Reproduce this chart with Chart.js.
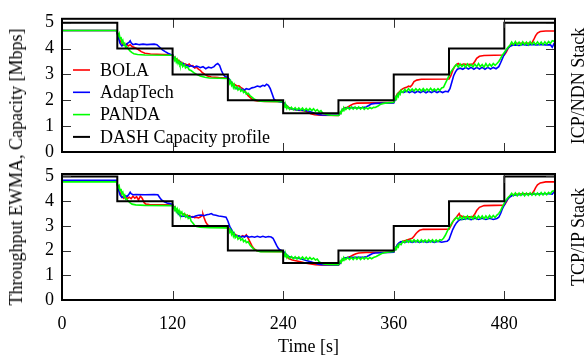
<!DOCTYPE html>
<html>
<head>
<meta charset="utf-8">
<script src="https://cdn.jsdelivr.net/npm/chart.js@4.4.0/dist/chart.umd.min.js"></script>
<style>
  body { margin: 0; background: #fff; }
  #wrap { position: relative; width: 585px; height: 360px; font-family: "Liberation Serif", serif; color: #000; }
  #wrap canvas { position: absolute; left: 0; top: 0; }
  .vlab { position: absolute; white-space: nowrap; font-size: 18px; line-height: 1; transform: translate(-50%, -50%) rotate(-90deg); }
</style>
</head>
<body>
<div id="wrap">
  <canvas id="ndn" width="585" height="360"></canvas>
  <canvas id="tcp" width="585" height="360"></canvas>
  <div class="vlab" style="left:16px; top:167px">Throughput EWMA, Capacity [Mbps]</div>
  <div class="vlab" style="left:578px; top:86px">ICP/NDN Stack</div>
  <div class="vlab" style="left:578px; top:237px">TCP/IP Stack</div>
</div>
<script>
// capacity profile: level starting at each time
const capTimes = [0, 60, 120, 180, 240, 300, 360, 420, 480, 540];
const capLevels = [5, 4, 3, 2, 1.5, 2, 3, 4, 5, 5];
const xTickValues = [0, 120, 240, 360, 480];
const yTickValues = [0, 1, 2, 3, 4, 5];
const labels = ['BOLA', 'AdapTech', 'PANDA', 'DASH Capacity profile'];

// ICP/NDN stack [time s, Mbps]
const bolaNdn = [[0,4.7],[59,4.7],[61,4.5],[63,4.3],[66,4.15],[68,4.12],[70,4.18],[72,4.1],[74,4.15],[76,4.08],[78,4.05],[82,3.98],[86,3.88],[90,3.82],[96,3.79],[110,3.77],[120,3.76],
  [122,3.65],[124,3.6],[126,3.55],[128,3.5],[130,3.45],[132,3.42],[134,3.4],[136,3.36],[138,3.4],[140,3.32],[142,3.34],[144,3.25],[146,3.28],[148,3.2],[150,3.16],[152,3.08],[155,3.0],[158,2.94],[162,2.9],[170,2.88],[180,2.87],
  [182,2.75],[184,2.68],[186,2.62],[188,2.6],[190,2.55],[192,2.56],[194,2.5],[196,2.45],[198,2.38],[200,2.28],[202,2.18],[205,2.08],[208,2.0],[212,1.97],[220,1.95],[240,1.94],
  [242,1.85],[244,1.78],[246,1.72],[248,1.68],[252,1.64],[256,1.62],[262,1.6],[266,1.55],[270,1.48],[274,1.44],[280,1.42],[300,1.41],
  [302,1.5],[304,1.62],[306,1.7],[310,1.73],[313,1.8],[316,1.86],[320,1.89],[340,1.9],[360,1.92],
  [362,2.1],[364,2.25],[366,2.32],[368,2.4],[370,2.45],[372,2.48],[374,2.5],[376,2.55],[378,2.52],[380,2.6],[382,2.72],[385,2.78],[390,2.81],[420,2.82],
  [422,2.95],[424,3.15],[426,3.3],[428,3.38],[430,3.42],[432,3.36],[436,3.4],[440,3.38],[446,3.4],[448,3.5],[450,3.62],[453,3.7],[458,3.73],[480,3.75],
  [482,3.85],[484,4.0],[486,4.1],[490,4.18],[495,4.2],[505,4.2],[510,4.22],[512,4.35],[514,4.5],[516,4.6],[519,4.66],[525,4.68],[536,4.68]];

const adapNdn = [[0,4.7],[59,4.7],[61,4.45],[63,4.2],[65,4.1],[67,4.15],[69,4.12],[71,4.2],[73,4.25],[74,4.3],[75,4.22],[77,4.15],[80,4.18],[84,4.15],[88,4.17],[92,4.15],[96,4.16],[100,4.17],[103,4.15],[106,4.05],[109,3.95],[112,3.88],[115,3.82],[118,3.77],[120,3.76],
  [122,3.6],[124,3.52],[126,3.45],[128,3.48],[130,3.38],[132,3.42],[134,3.33],[136,3.36],[138,3.3],[140,3.34],[143,3.28],[146,3.32],[148,3.3],[150,3.26],[153,3.3],[156,3.22],[159,3.28],[162,3.25],[165,3.3],[167,3.38],[169,3.42],[171,3.35],[173,3.15],[175,3.0],[177,2.92],[180,2.88],
  [182,2.8],[184,2.65],[186,2.55],[188,2.48],[190,2.44],[192,2.47],[194,2.4],[196,2.43],[198,2.4],[200,2.45],[203,2.42],[206,2.48],[209,2.5],[212,2.55],[215,2.52],[218,2.58],[220,2.55],[222,2.62],[224,2.58],[226,2.45],[228,2.25],[230,2.05],[232,1.98],[236,1.94],[240,1.92],
  [242,1.85],[244,1.76],[246,1.7],[250,1.66],[255,1.63],[260,1.62],[265,1.6],[270,1.56],[274,1.5],[278,1.45],[282,1.43],[300,1.42],
  [302,1.5],[304,1.62],[306,1.68],[310,1.7],[315,1.72],[320,1.7],[326,1.72],[330,1.74],[333,1.8],[336,1.86],[340,1.88],[360,1.9],
  [362,2.05],[364,2.2],[366,2.28],[368,2.33],[371,2.3],[374,2.36],[377,2.3],[380,2.35],[383,2.29],[386,2.35],[389,2.3],[392,2.36],[395,2.29],[398,2.35],[401,2.3],[404,2.36],[407,2.3],[410,2.35],[413,2.3],[416,2.35],[419,2.33],
  [421,2.45],[423,2.7],[425,2.95],[427,3.1],[429,3.2],[432,3.24],[435,3.2],[438,3.27],[441,3.21],[444,3.27],[447,3.2],[450,3.27],[453,3.21],[456,3.27],[459,3.2],[462,3.27],[465,3.21],[468,3.27],[471,3.22],[474,3.3],[476,3.45],[478,3.62],[480,3.78],[482,3.92],[484,4.02],[486,4.08],[488,4.12],
  [492,4.14],[496,4.12],[500,4.16],[505,4.13],[510,4.16],[515,4.14],[520,4.16],[525,4.14],[530,4.15],[532,4.05],[534,4.2],[536,4.28]];

const pandaNdn = [[0,4.7],[59,4.7],[60,4.62],[61,4.5],[62,4.58],[63,4.38],[64,4.45],[65,4.25],[66,4.32],[67,4.15],[68,4.2],[69,4.05],[70,4.08],[72,3.98],[74,3.9],[76,3.84],[78,3.8],[82,3.77],[90,3.75],[120,3.74],
  [121,3.68],[122,3.55],[123,3.64],[124,3.48],[125,3.57],[126,3.42],[127,3.5],[128,3.36],[130,3.44],[131,3.3],[133,3.38],[134,3.25],[136,3.3],[138,3.18],[140,3.15],[143,3.07],[146,3.0],[150,2.94],[155,2.89],[160,2.86],[180,2.84],
  [181,2.8],[182,2.65],[183,2.74],[184,2.58],[185,2.66],[186,2.5],[187,2.6],[188,2.45],[190,2.52],[191,2.4],[193,2.47],[194,2.35],[196,2.4],[197,2.3],[199,2.34],[200,2.24],[202,2.27],[204,2.18],[206,2.12],[208,2.06],[211,2.0],[215,1.96],[240,1.94],
  [241,1.85],[242,1.72],[243,1.8],[244,1.68],[245,1.76],[247,1.65],[249,1.73],[251,1.63],[253,1.71],[255,1.62],[257,1.7],[259,1.62],[261,1.7],[263,1.6],[265,1.68],[267,1.6],[269,1.68],[271,1.6],[273,1.67],[275,1.58],[277,1.64],[279,1.55],[281,1.6],[283,1.5],[285,1.48],[288,1.44],[292,1.42],[300,1.41],
  [301,1.45],[302,1.55],[303,1.5],[304,1.65],[305,1.6],[306,1.72],[308,1.64],[310,1.73],[312,1.65],[314,1.74],[316,1.66],[318,1.74],[320,1.66],[322,1.74],[324,1.66],[326,1.73],[328,1.65],[330,1.72],[332,1.66],[334,1.72],[336,1.68],[338,1.73],[340,1.72],[343,1.78],[346,1.85],[349,1.88],[353,1.9],[360,1.92],
  [361,2.0],[362,2.12],[363,2.05],[364,2.22],[365,2.15],[366,2.3],[367,2.24],[368,2.38],[370,2.3],[372,2.42],[374,2.34],[376,2.45],[378,2.36],[380,2.44],[382,2.36],[384,2.45],[386,2.37],[388,2.44],[390,2.36],[392,2.45],[394,2.36],[396,2.44],[398,2.37],[400,2.46],[402,2.37],[404,2.44],[406,2.37],[408,2.45],[410,2.38],[412,2.48],[414,2.5],[416,2.65],[418,2.8],[420,2.95],[422,3.1],[424,3.2],
  [426,3.3],[428,3.38],[430,3.28],[432,3.4],[434,3.3],[436,3.38],[438,3.28],[440,3.4],[442,3.3],[444,3.38],[446,3.29],[448,3.4],[450,3.3],[452,3.42],[454,3.3],[456,3.38],[458,3.28],[460,3.42],[462,3.3],[464,3.4],[466,3.32],[468,3.42],[470,3.35],[472,3.42],[474,3.5],[476,3.62],[478,3.75],[480,3.85],[482,3.95],[484,4.05],[486,4.12],
  [488,4.25],[490,4.15],[492,4.27],[494,4.15],[496,4.25],[498,4.14],[500,4.26],[502,4.15],[504,4.25],[506,4.14],[508,4.26],[510,4.16],[512,4.25],[514,4.15],[516,4.26],[518,4.16],[520,4.25],[522,4.15],[524,4.26],[526,4.17],[528,4.27],[530,4.2],[532,4.3],[534,4.28],[536,4.38]];

// TCP/IP stack [time s, Mbps]
const bolaTcp = [[0,4.82],[59,4.82],[61,4.55],[63,4.35],[65,4.2],[67,4.12],[69,4.2],[71,4.1],[73,4.16],[75,4.1],[77,4.2],[79,4.12],[81,4.18],[83,4.05],[85,4.2],[87,4.12],[89,3.95],[91,3.88],[95,3.86],[120,3.85],
  [122,3.75],[124,3.65],[126,3.6],[128,3.55],[130,3.5],[132,3.48],[134,3.45],[136,3.4],[138,3.42],[140,3.36],[142,3.38],[144,3.33],[146,3.35],[148,3.32],[150,3.36],[152,3.42],[153,3.47],[154,3.35],[156,3.15],[158,3.04],[162,2.97],[170,2.95],[180,2.94],
  [182,2.85],[184,2.75],[186,2.7],[188,2.65],[190,2.6],[192,2.58],[194,2.55],[196,2.6],[198,2.56],[200,2.64],[202,2.5],[204,2.35],[206,2.2],[208,2.09],[211,2.0],[216,1.97],[240,1.95],
  [242,1.85],[244,1.76],[246,1.68],[250,1.62],[255,1.58],[260,1.54],[265,1.49],[270,1.46],[275,1.43],[280,1.42],[300,1.41],
  [302,1.5],[304,1.62],[306,1.68],[310,1.72],[313,1.76],[316,1.82],[319,1.87],[322,1.9],[330,1.92],[360,1.93],
  [362,2.1],[364,2.22],[366,2.3],[368,2.35],[372,2.4],[376,2.45],[380,2.5],[382,2.58],[384,2.68],[386,2.76],[388,2.82],[392,2.86],[420,2.87],
  [422,3.0],[424,3.15],[426,3.28],[428,3.35],[430,3.45],[431,3.5],[432,3.42],[436,3.36],[446,3.38],[448,3.48],[450,3.62],[453,3.75],[458,3.82],[480,3.84],
  [482,3.95],[484,4.1],[486,4.2],[490,4.27],[500,4.3],[510,4.3],[512,4.4],[514,4.55],[516,4.66],[519,4.74],[525,4.78],[536,4.78]];

const adapTcp = [[0,4.84],[59,4.84],[61,4.5],[63,4.25],[65,4.15],[67,4.18],[69,4.22],[71,4.2],[73,4.3],[74,4.36],[75,4.3],[77,4.26],[80,4.27],[90,4.26],[100,4.27],[104,4.26],[106,4.15],[108,4.05],[111,3.98],[114,3.93],[117,3.9],[120,3.87],
  [122,3.7],[124,3.6],[126,3.5],[128,3.42],[130,3.38],[133,3.4],[136,3.36],[139,3.38],[142,3.35],[145,3.4],[148,3.43],[151,3.44],[154,3.41],[157,3.45],[160,3.47],[162,3.5],[164,3.45],[167,3.43],[170,3.4],[174,3.38],[178,3.35],[180,3.2],[182,2.98],[184,2.85],
  [186,2.72],[188,2.62],[190,2.58],[192,2.6],[194,2.55],[196,2.58],[198,2.55],[200,2.6],[203,2.54],[206,2.57],[209,2.54],[212,2.58],[215,2.54],[218,2.58],[221,2.54],[224,2.57],[227,2.55],[229,2.5],[231,2.35],[233,2.2],[235,2.08],[237,2.02],[240,1.98],
  [242,1.9],[244,1.82],[246,1.76],[250,1.72],[255,1.7],[260,1.66],[265,1.6],[270,1.55],[274,1.5],[278,1.45],[282,1.43],[300,1.42],
  [302,1.5],[304,1.62],[306,1.7],[310,1.72],[320,1.73],[328,1.74],[331,1.76],[334,1.82],[337,1.88],[340,1.9],[360,1.93],
  [362,2.1],[364,2.25],[366,2.32],[368,2.36],[372,2.33],[376,2.38],[380,2.33],[384,2.38],[388,2.33],[392,2.38],[396,2.33],[400,2.38],[404,2.33],[408,2.38],[412,2.34],[416,2.37],[418,2.38],[420,2.45],[422,2.65],[424,2.85],[426,3.0],[428,3.12],[430,3.2],[432,3.25],
  [436,3.27],[440,3.3],[444,3.25],[448,3.31],[452,3.26],[456,3.31],[460,3.26],[464,3.31],[468,3.26],[472,3.3],[474,3.35],[476,3.5],[478,3.7],[480,3.85],[482,4.0],[484,4.1],[486,4.17],[488,4.22],
  [492,4.25],[500,4.27],[510,4.28],[520,4.3],[528,4.3],[532,4.28],[534,4.38],[536,4.45]];

const pandaTcp = [[0,4.78],[59,4.78],[60,4.7],[61,4.55],[62,4.62],[63,4.42],[64,4.5],[65,4.3],[66,4.36],[67,4.2],[68,4.25],[69,4.08],[70,4.1],[72,4.0],[74,3.93],[76,3.88],[80,3.85],[90,3.83],[120,3.82],
  [121,3.78],[122,3.65],[123,3.74],[124,3.58],[125,3.68],[126,3.52],[127,3.62],[128,3.47],[130,3.56],[131,3.42],[133,3.5],[134,3.36],[136,3.43],[137,3.3],[139,3.35],[140,3.2],[142,3.12],[144,3.02],[146,2.98],[150,2.95],[160,2.93],[180,2.92],
  [181,2.88],[182,2.75],[183,2.84],[184,2.66],[185,2.75],[186,2.58],[187,2.68],[188,2.52],[190,2.6],[191,2.46],[193,2.54],[194,2.42],[196,2.48],[197,2.36],[199,2.42],[200,2.32],[202,2.36],[204,2.22],[206,2.14],[208,2.07],[211,2.0],[215,1.96],[240,1.95],
  [241,1.88],[242,1.75],[243,1.84],[244,1.72],[245,1.8],[247,1.68],[249,1.76],[251,1.67],[253,1.75],[255,1.66],[257,1.74],[259,1.66],[261,1.74],[263,1.65],[265,1.73],[267,1.64],[269,1.72],[271,1.64],[273,1.7],[275,1.62],[277,1.66],[279,1.55],[281,1.5],[284,1.46],[288,1.44],[300,1.43],
  [301,1.48],[302,1.58],[303,1.52],[304,1.66],[305,1.6],[306,1.72],[308,1.64],[310,1.72],[312,1.64],[314,1.72],[316,1.64],[318,1.73],[320,1.65],[322,1.73],[324,1.64],[326,1.72],[328,1.65],[330,1.73],[332,1.65],[334,1.72],[336,1.67],[338,1.72],[341,1.76],[344,1.82],[347,1.88],[350,1.91],[355,1.94],[360,1.96],
  [361,2.02],[362,2.12],[363,2.06],[364,2.2],[365,2.15],[366,2.28],[368,2.24],[370,2.38],[372,2.32],[374,2.42],[376,2.34],[378,2.43],[380,2.35],[382,2.44],[384,2.35],[386,2.43],[388,2.34],[390,2.44],[392,2.35],[394,2.43],[396,2.35],[398,2.44],[400,2.35],[402,2.44],[404,2.35],[406,2.43],[408,2.36],[410,2.44],[412,2.42],[414,2.5],[416,2.62],[418,2.78],[420,2.92],[422,3.05],[424,3.18],[426,3.25],
  [428,3.35],[430,3.26],[432,3.38],[434,3.27],[436,3.38],[438,3.28],[440,3.4],[442,3.28],[444,3.38],[446,3.28],[448,3.4],[450,3.29],[452,3.4],[454,3.3],[456,3.4],[458,3.29],[460,3.4],[462,3.3],[464,3.42],[466,3.32],[468,3.42],[470,3.34],[472,3.44],[474,3.5],[476,3.62],[478,3.78],[480,3.92],[482,4.05],[484,4.15],[486,4.22],
  [488,4.32],[490,4.22],[492,4.33],[494,4.22],[496,4.33],[498,4.23],[500,4.34],[502,4.22],[504,4.33],[506,4.23],[508,4.34],[510,4.24],[512,4.34],[514,4.24],[516,4.33],[518,4.24],[520,4.35],[522,4.25],[524,4.35],[526,4.26],[528,4.36],[530,4.3],[532,4.4],[534,4.42],[536,4.5]];

const colors = ['#ff0000', '#0000ff', '#00ff00', '#000000'];
const FONT = '"Liberation Serif", serif';
const FONT_SIZE = 18;

Chart.defaults.font.family = FONT;
Chart.defaults.color = '#000';

function line(label, pts, color, order) {
  return {
    label: label,
    data: pts.map(function(p) { return { x: p[0], y: p[1] }; }),
    borderColor: color,
    borderWidth: 1.6,
    pointRadius: 0,
    fill: false,
    order: order
  };
}

function capacity() {
  return {
    label: labels[3],
    data: capTimes.map(function(t, i) { return { x: t, y: capLevels[i] }; }),
    borderColor: colors[3],
    borderWidth: 2,
    pointRadius: 0,
    stepped: true,
    fill: false,
    order: 0
  };
}

// gnuplot style frame, inward ticks and key
const framePlugin = {
  id: 'frame',
  afterDatasetsDraw: function(chart, args, opts) {
    var ctx = chart.ctx, a = chart.chartArea;
    var xs = chart.scales.x, ys = chart.scales.y;
    ctx.save();
    ctx.strokeStyle = '#333';
    ctx.lineWidth = 1;
    ctx.beginPath();
    xTickValues.forEach(function(t) {
      var px = Math.round(xs.getPixelForValue(t)) + 0.5;
      ctx.moveTo(px, a.bottom); ctx.lineTo(px, a.bottom - 9);
      ctx.moveTo(px, a.top); ctx.lineTo(px, a.top + 9);
    });
    yTickValues.forEach(function(v) {
      var py = Math.round(ys.getPixelForValue(v)) + 0.5;
      ctx.moveTo(a.left, py); ctx.lineTo(a.left + 9, py);
      ctx.moveTo(a.right, py); ctx.lineTo(a.right - 9, py);
    });
    ctx.stroke();
    ctx.strokeStyle = '#000';
    ctx.lineWidth = 2;
    ctx.strokeRect(a.left, a.top, a.right - a.left, a.bottom - a.top);

    if (opts.key) {
      ctx.font = FONT_SIZE + 'px ' + FONT;
      ctx.textBaseline = 'middle';
      ctx.fillStyle = '#000';
      labels.forEach(function(lab, i) {
        var yy = 70 + i * 22.3;
        ctx.strokeStyle = colors[i];
        ctx.lineWidth = i === 3 ? 2 : 1.6;
        ctx.beginPath();
        ctx.moveTo(73, yy); ctx.lineTo(90, yy);
        ctx.stroke();
        ctx.fillText(lab, 100, yy + 1);
      });
    }
    ctx.restore();
  }
};

function makeChart(id, sets, yMax, padding, showX) {
  return new Chart(document.getElementById(id), {
    type: 'line',
    data: {
      datasets: [
        line(labels[0], sets[0], colors[0], 3),
        line(labels[1], sets[1], colors[1], 2),
        line(labels[2], sets[2], colors[2], 1),
        capacity()
      ]
    },
    options: {
      responsive: false,
      animation: false,
      layout: { padding: padding },
      plugins: {
        legend: { display: false },
        tooltip: { enabled: false },
        frame: { key: !showX }
      },
      scales: {
        x: {
          type: 'linear',
          display: showX,
          min: 0,
          max: 535,
          grid: { display: false, drawTicks: false },
          border: { display: false },
          ticks: { stepSize: 120, includeBounds: false, padding: 13, font: { size: FONT_SIZE }, maxRotation: 0 },
          title: { display: true, text: 'Time [s]', font: { size: FONT_SIZE }, padding: { top: 0, bottom: 2 } },
          afterFit: function(s) { s.height = showX ? 60 : 0; }
        },
        y: {
          min: 0,
          max: yMax,
          grid: { display: false, drawTicks: false },
          border: { display: false },
          ticks: { stepSize: 1, includeBounds: false, padding: 8, font: { size: FONT_SIZE } },
          afterFit: function(s) { s.width = 62; }
        }
      }
    },
    plugins: [framePlugin]
  });
}

makeChart('ndn', [bolaNdn, adapNdn, pandaNdn], 5.15, { left: 0, right: 30, top: 7, bottom: 208 }, false);
makeChart('tcp', [bolaTcp, adapTcp, pandaTcp], 5.1, { left: 0, right: 30, top: 174, bottom: 0 }, true);
</script>
</body>
</html>
